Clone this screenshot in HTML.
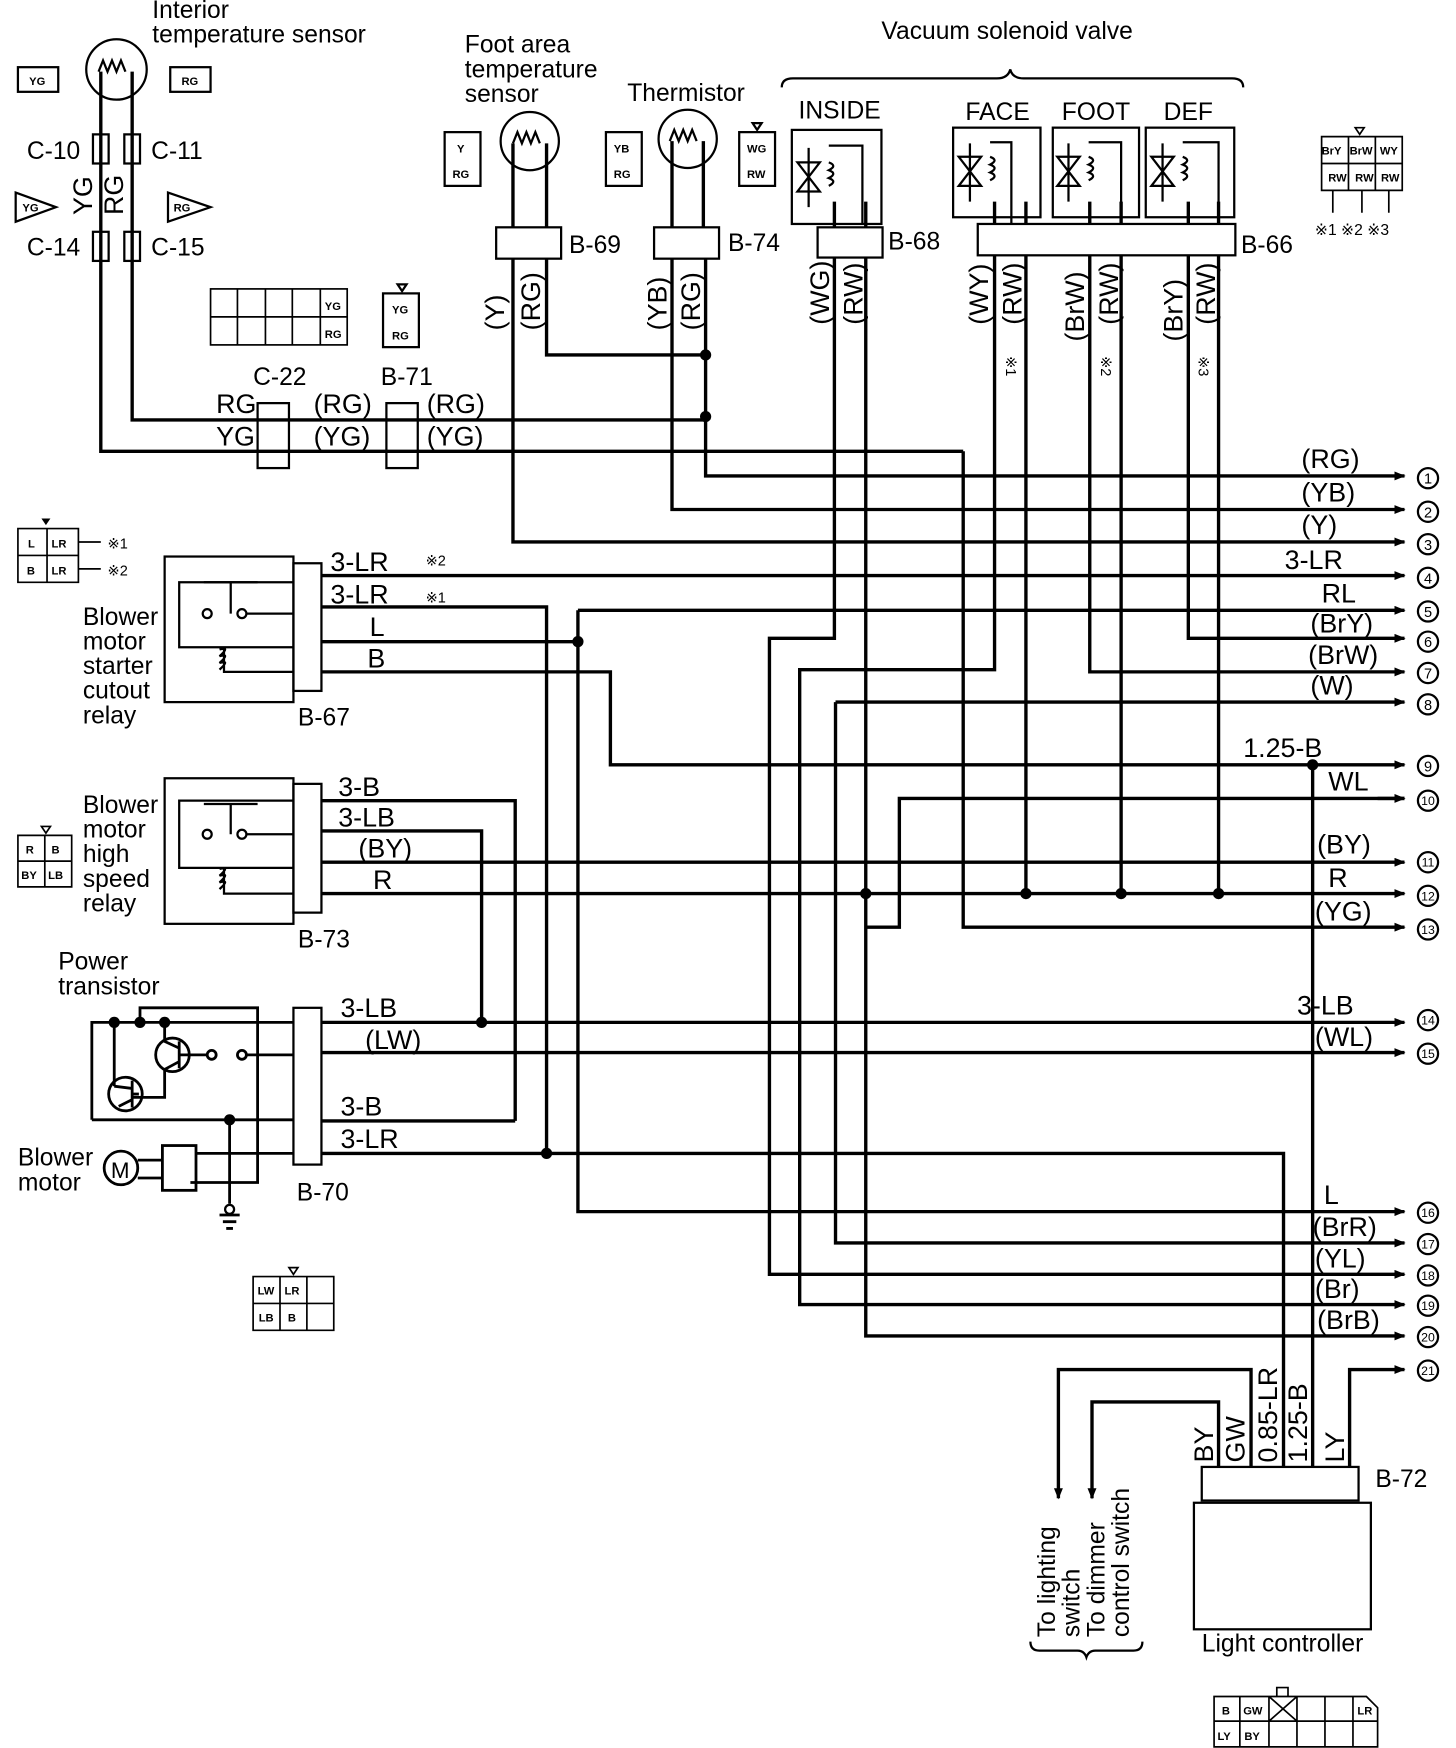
<!DOCTYPE html>
<html><head><meta charset="utf-8"><style>
html,body{margin:0;padding:0;background:#fff;}
svg{display:block;}
text{font-family:"Liberation Sans",sans-serif;fill:#000;}
.w{fill:none;stroke:#000;stroke-width:3;}
.t{fill:none;stroke:#000;stroke-width:2;}
.l{font-size:22px;}
.m{font-family:"Liberation Sans",sans-serif;font-size:24px;}
.s{font-size:10px;font-weight:bold;}
</style></head><body>
<svg width="1456" height="1748" viewBox="0 0 1300 1561" preserveAspectRatio="none" xmlns="http://www.w3.org/2000/svg">
<defs>
<marker id="ar" markerWidth="10" markerHeight="8" refX="9" refY="4" orient="auto" markerUnits="userSpaceOnUse"><path d="M0,0 L10,4 L0,8 Z" fill="#000"/></marker>
</defs>

<!-- Interior temperature sensor -->
<text x="136" y="16" class="l" font-size="19">Interior</text>
<text x="136" y="38" class="l" font-size="19">temperature sensor</text>
<circle cx="104" cy="62" r="27" class="t"/>
<path d="M88,64 l4,-10 l4,10 l4,-10 l4,10 l4,-10 l4,10" class="t"/>
<path d="M90,64 V403 H860" class="w"/>
<path d="M118,64 V375 H630" class="w"/>
<rect x="83" y="120" width="14" height="26" fill="#fff" class="t"/><rect x="111" y="120" width="14" height="26" fill="#fff" class="t"/>
<rect x="83" y="207" width="14" height="26" fill="#fff" class="t"/><rect x="111" y="207" width="14" height="26" fill="#fff" class="t"/>
<text x="24" y="142" class="l" font-size="20">C-10</text><text x="135" y="142" class="l" font-size="20">C-11</text>
<text x="24" y="228" class="l" font-size="20">C-14</text><text x="135" y="228" class="l" font-size="20">C-15</text>
<text transform="translate(82,192) rotate(-90)" class="m" font-size="22">YG</text>
<text transform="translate(110,192) rotate(-90)" class="m" font-size="22">RG</text>
<rect x="16" y="60" width="36" height="22" class="t"/><text x="26" y="76" class="s">YG</text>
<rect x="152" y="60" width="36" height="22" class="t"/><text x="162" y="76" class="s">RG</text>
<path d="M14,172 L50,185 L14,198 Z" class="t"/><text x="20" y="189" class="s">YG</text>
<path d="M150,172 L188,185 L150,198 Z" class="t"/><text x="155" y="189" class="s">RG</text>

<!-- C-22 / B-71 -->
<rect x="230" y="360" width="28" height="58" fill="#fff" class="t"/>
<rect x="345" y="360" width="28" height="58" fill="#fff" class="t"/>
<text x="226" y="344" class="l" font-size="19">C-22</text><text x="340" y="344" class="l" font-size="19">B-71</text>
<text x="193" y="369" class="m">RG</text><text x="193" y="398" class="m">YG</text>
<text x="280" y="369" class="m">(RG)</text><text x="280" y="398" class="m">(YG)</text>
<text x="381" y="369" class="m">(RG)</text><text x="381" y="398" class="m">(YG)</text>
<path d="M860,403 V828 H1254" class="w" marker-end="url(#ar)"/>
<g fill="none" stroke="#000" stroke-width="1.5">
<rect x="188" y="258" width="122" height="50"/>
<path d="M188,283 H310 M212,258 V308 M237,258 V308 M261,258 V308 M286,258 V308"/>
</g>
<text x="290" y="277" class="s">YG</text><text x="290" y="302" class="s">RG</text>
<rect x="342" y="262" width="32" height="48" class="t"/><path d="M355,254 h8 l-4,6z" class="t"/>
<text x="350" y="280" class="s">YG</text><text x="350" y="303" class="s">RG</text>

<!-- Foot area sensor B-69 -->
<text x="415" y="47" class="l" font-size="19">Foot area</text>
<text x="415" y="69" class="l" font-size="19">temperature</text>
<text x="415" y="91" class="l" font-size="19">sensor</text>
<circle cx="473" cy="126" r="26" class="t"/>
<path d="M458,128 l4,-10 l4,10 l4,-10 l4,10 l4,-10 l4,10" class="t"/>
<rect x="443" y="203" width="58" height="28" fill="#fff" class="t"/>
<text x="508" y="226" class="l" font-size="20">B-69</text>
<path d="M458,128 V203 M488,128 V203" class="w"/>
<path d="M458,231 V484 H1254" class="w" marker-end="url(#ar)"/>
<path d="M488,231 V317 H630" class="w"/>
<rect x="397" y="118" width="32" height="48" class="t"/><text x="408" y="136" class="s">Y</text><text x="404" y="159" class="s">RG</text>
<text transform="translate(450,295) rotate(-90)" class="m">(Y)</text>
<text transform="translate(482,295) rotate(-90)" class="m">(RG)</text>

<!-- Thermistor B-74 -->
<text x="560" y="90" class="l" font-size="19">Thermistor</text>
<circle cx="614" cy="124" r="26" class="t"/>
<path d="M598,126 l4,-10 l4,10 l4,-10 l4,10 l4,-10 l4,10" class="t"/>
<rect x="584" y="203" width="58" height="28" fill="#fff" class="t"/>
<text x="650" y="224" class="l" font-size="20">B-74</text>
<path d="M600,126 V203 M628,126 V203" class="w"/>
<path d="M600,231 V455 H1254" class="w" marker-end="url(#ar)"/>
<path d="M630,231 V425 H1254" class="w" marker-end="url(#ar)"/>
<rect x="541" y="118" width="32" height="48" class="t"/><text x="548" y="136" class="s">YB</text><text x="548" y="159" class="s">RG</text>
<rect x="660" y="118" width="32" height="48" class="t"/><text x="667" y="136" class="s">WG</text><text x="667" y="159" class="s">RW</text>
<path d="M672,110 h8 l-4,6z" class="t"/>
<text transform="translate(595,295) rotate(-90)" class="m">(YB)</text>
<text transform="translate(625,295) rotate(-90)" class="m">(RG)</text>

<!-- Vacuum solenoid valve -->
<text x="787" y="35" class="l" font-size="19">Vacuum solenoid valve</text>
<path d="M698,78 q0,-8 10,-8 H890 q10,0 12,-8 q2,8 12,8 H1100 q10,0 10,8" class="t" stroke-width="1.5"/>
<text x="713" y="106" class="l" font-size="20">INSIDE</text>
<text x="862" y="107" class="l" font-size="20">FACE</text>
<text x="948" y="107" class="l" font-size="20">FOOT</text>
<text x="1039" y="107" class="l" font-size="20">DEF</text>
<g class="t">
<rect x="707" y="116" width="80" height="84"/>
<rect x="851" y="114" width="78" height="80"/>
<rect x="940" y="114" width="77" height="80"/>
<rect x="1023" y="114" width="79" height="80"/>
</g>
<g fill="none" stroke="#000" stroke-width="2">
<path d="M712,145 h20 l-20,26 h20 z M722,132 V185"/><path d="M740,145 q8,3 0,7 q8,3 0,7 q8,3 0,7 M740,130 H770 V200"/>
<path d="M856,140 h20 l-20,26 h20 z M866,128 V180"/><path d="M884,140 q8,3 0,7 q8,3 0,7 q8,3 0,7 M884,127 H903 V200"/>
<path d="M944,140 h20 l-20,26 h20 z M954,128 V180"/><path d="M972,140 q8,3 0,7 q8,3 0,7 q8,3 0,7 M972,127 H1001 V200"/>
<path d="M1028,140 h20 l-20,26 h20 z M1038,128 V180"/><path d="M1056,140 q8,3 0,7 q8,3 0,7 q8,3 0,7 M1056,127 H1088 V200"/>
</g>
<rect x="730" y="203" width="58" height="27" fill="#fff" class="t"/>
<text x="793" y="223" class="l" font-size="20">B-68</text>
<rect x="873" y="200" width="230" height="28" fill="#fff" class="t"/>
<text x="1108" y="226" class="l" font-size="20">B-66</text>
<path d="M745,180 V203 M773,180 V203" class="w"/>
<path d="M745,230 V570 H687 V1138 H1254" class="w" marker-end="url(#ar)"/>
<path d="M773,230 V1193 H1254" class="w" marker-end="url(#ar)"/>
<path d="M888,180 V200 M916,180 V200 M973,180 V200 M1001,180 V200 M1061,180 V200 M1088,180 V200" class="w"/>
<path d="M888,228 V598 H714 V1165 H1254" class="w" marker-end="url(#ar)"/>
<path d="M916,228 V798" class="w"/>
<path d="M973,228 V600 H1254" class="w" marker-end="url(#ar)"/>
<path d="M1001,228 V798" class="w"/>
<path d="M1061,228 V570 H1254" class="w" marker-end="url(#ar)"/>
<path d="M1088,228 V798" class="w"/>
<path d="M746,627 H1254" class="w" marker-end="url(#ar)"/>
<path d="M746,627 V1110 H1254" class="w" marker-end="url(#ar)"/>
<path d="M1254,713 H803 V828 H773" class="w"/>
<path d="M1230,713 H1254" class="w" marker-end="url(#ar)"/>
<text transform="translate(740,290) rotate(-90)" class="m">(WG)</text>
<text transform="translate(770,290) rotate(-90)" class="m">(RW)</text>
<text transform="translate(882,290) rotate(-90)" class="m">(WY)</text>
<text transform="translate(912,290) rotate(-90)" class="m">(RW)</text>
<text transform="translate(968,305) rotate(-90)" class="m">(BrW)</text>
<text transform="translate(998,290) rotate(-90)" class="m">(RW)</text>
<text transform="translate(1056,305) rotate(-90)" class="m">(BrY)</text>
<text transform="translate(1085,290) rotate(-90)" class="m">(RW)</text>
<text transform="translate(898,318) rotate(90)" font-size="13">※1</text>
<text transform="translate(983,318) rotate(90)" font-size="13">※2</text>
<text transform="translate(1070,318) rotate(90)" font-size="13">※3</text>
<!-- connector top right -->
<g fill="none" stroke="#000" stroke-width="1.5">
<path d="M1180,122 h72 v48 h-72 z M1180,146 h72 M1204,122 v48 M1228,122 v48"/><path d="M1210,114 h8 l-4,6z"/>
<path d="M1190,170 v20 M1216,170 v20 M1240,170 v20"/>
</g>
<text x="1180" y="138" font-size="10" font-weight="bold">BrY</text><text x="1205" y="138" font-size="10" font-weight="bold">BrW</text><text x="1232" y="138" class="s">WY</text>
<text x="1186" y="162" class="s">RW</text><text x="1210" y="162" class="s">RW</text><text x="1233" y="162" class="s">RW</text>
<text x="1174" y="210" font-size="14">※1 ※2 ※3</text>

<!-- Relay B-67 -->
<g fill="#000"><path d="M37,463 h8 l-4,6z"/></g>
<g fill="none" stroke="#000" stroke-width="1.5"><path d="M16,472 h54 v48 h-54 z M16,496 h54 M42,472 v48 M70,484 h20 M70,508 h20"/></g>
<text x="25" y="489" class="s">L</text><text x="46" y="489" class="s">LR</text><text x="24" y="513" class="s">B</text><text x="46" y="513" class="s">LR</text>
<text x="96" y="490" font-size="13">※1</text><text x="96" y="514" font-size="13">※2</text>
<rect x="147" y="497" width="115" height="130" class="t"/>
<rect x="262" y="503" width="25" height="114" fill="#fff" class="t"/>
<text x="266" y="648" class="l" font-size="19">B-67</text>
<text x="74" y="558" class="l" font-size="19">Blower</text><text x="74" y="580" class="l" font-size="19">motor</text>
<text x="74" y="602" class="l" font-size="19">starter</text><text x="74" y="624" class="l" font-size="19">cutout</text><text x="74" y="646" class="l" font-size="19">relay</text>
<g fill="none" stroke="#000" stroke-width="2">
<path d="M262,520 H160 V578 H262"/><path d="M182,520 H230 M206,520 V548"/>
<circle cx="185" cy="548" r="4"/><circle cx="216" cy="548" r="4"/><path d="M220,548 H262"/>
<path d="M196,580 q10,-3 0,6 q10,-3 0,6 q10,-3 0,6 M200,578 V600 H262"/>
</g>
<path d="M287,514 H1254" class="w" marker-end="url(#ar)"/>
<path d="M287,542 H488 V1030" class="w"/>
<path d="M287,573 H516" class="w"/>
<path d="M516,545 H1254" class="w" marker-end="url(#ar)"/>
<path d="M516,545 V1082 H1254" class="w" marker-end="url(#ar)"/>
<path d="M287,600 H545 V683 H1254" class="w" marker-end="url(#ar)"/>
<text x="295" y="510" class="m">3-LR</text><text x="380" y="505" font-size="13">※2</text>
<text x="295" y="539" class="m">3-LR</text><text x="380" y="538" font-size="13">※1</text>
<text x="330" y="568" class="m">L</text><text x="328" y="596" class="m">B</text>

<!-- Relay B-73 -->
<g fill="none" stroke="#000" stroke-width="1.5"><path d="M37,738 h8 l-4,6z"/><path d="M16,746 h48 v46 h-48 z M16,769 h48 M40,746 v46"/></g>
<text x="23" y="762" class="s">R</text><text x="46" y="762" class="s">B</text><text x="19" y="785" class="s">BY</text><text x="43" y="785" class="s">LB</text>
<rect x="147" y="695" width="115" height="130" class="t"/>
<rect x="262" y="700" width="25" height="115" fill="#fff" class="t"/>
<text x="266" y="846" class="l" font-size="19">B-73</text>
<text x="74" y="726" class="l" font-size="19">Blower</text><text x="74" y="748" class="l" font-size="19">motor</text>
<text x="74" y="770" class="l" font-size="19">high</text><text x="74" y="792" class="l" font-size="19">speed</text><text x="74" y="814" class="l" font-size="19">relay</text>
<g fill="none" stroke="#000" stroke-width="2">
<path d="M262,715 H160 V775 H262"/><path d="M182,718 H230 M206,718 V745"/>
<circle cx="185" cy="745" r="4"/><circle cx="216" cy="745" r="4"/><path d="M220,745 H262"/>
<path d="M196,776 q10,-3 0,6 q10,-3 0,6 q10,-3 0,6 M200,775 V798 H262"/>
</g>
<path d="M287,715 H460 V1001" class="w"/>
<path d="M287,742 H430 V913" class="w"/>
<path d="M287,770 H1254" class="w" marker-end="url(#ar)"/>
<path d="M287,798 H1254" class="w" marker-end="url(#ar)"/>
<text x="302" y="711" class="m">3-B</text><text x="302" y="738" class="m">3-LB</text>
<text x="320" y="766" class="m">(BY)</text><text x="333" y="794" class="m">R</text>

<!-- Power transistor / B-70 -->
<text x="52" y="866" class="l" font-size="19">Power</text><text x="52" y="888" class="l" font-size="19">transistor</text>
<rect x="262" y="900" width="25" height="140" fill="#fff" class="t"/>
<text x="265" y="1072" class="l" font-size="19">B-70</text>
<g fill="none" stroke="#000" stroke-width="2.5">
<path d="M82,1000 V913 H262"/><path d="M125,913 V900 H230 V1056 H170"/>
<path d="M82,1000 H262"/><path d="M102,913 V970"/>
<circle cx="154" cy="942" r="15"/><circle cx="112" cy="977" r="15"/>
<path d="M160,930 V954 M160,942 H185 M147,913 V930 L160,936 M160,948 L147,955 V980 H118 M118,965 V989 M118,977 H124 M102,970 L118,972 M118,982 L106,988"/>
<circle cx="189" cy="942" r="4"/><circle cx="216" cy="942" r="4"/><path d="M220,942 H262"/>
<path d="M205,1000 V1075"/>
<circle cx="108" cy="1043" r="15"/><rect x="145" y="1023" width="30" height="40"/>
<path d="M123,1036 H145 M123,1052 H145 M175,1030 H262"/>
<path d="M196,1085 H214 M199,1091 H211 M202,1097 H208"/>
</g>
<circle cx="205" cy="1080" r="4" fill="none" stroke="#000" stroke-width="2"/>
<text x="99" y="1052" font-size="20" font-family="Liberation Sans">M</text>
<g fill="#000"><circle cx="102" cy="913" r="5"/><circle cx="125" cy="913" r="5"/><circle cx="147" cy="913" r="5"/><circle cx="205" cy="1000" r="5"/></g>
<text x="16" y="1041" class="l" font-size="19">Blower</text><text x="16" y="1063" class="l" font-size="19">motor</text>
<path d="M287,913 H1254" class="w" marker-end="url(#ar)"/>
<path d="M287,940 H1254" class="w" marker-end="url(#ar)"/>
<path d="M287,1001 H460" class="w"/>
<path d="M287,1030 H1146 V1310" class="w"/>
<text x="304" y="908" class="m">3-LB</text><text x="326" y="937" class="m">(LW)</text>
<text x="304" y="996" class="m">3-B</text><text x="304" y="1025" class="m">3-LR</text>
<g fill="none" stroke="#000" stroke-width="1.5"><path d="M258,1132 h8 l-4,6z"/><path d="M226,1140 h72 v48 h-72 z M226,1164 h72 M250,1140 v48 M274,1140 v48"/></g>
<text x="230" y="1156" class="s">LW</text><text x="254" y="1156" class="s">LR</text><text x="231" y="1180" class="s">LB</text><text x="257" y="1180" class="s">B</text>

<!-- Junction dots -->
<g fill="#000">
<circle cx="630" cy="317" r="5"/><circle cx="630" cy="372" r="5"/>
<circle cx="516" cy="573" r="5"/><circle cx="430" cy="913" r="5"/><circle cx="488" cy="1030" r="5"/>
<circle cx="773" cy="798" r="5"/><circle cx="916" cy="798" r="5"/><circle cx="1001" cy="798" r="5"/><circle cx="1088" cy="798" r="5"/>
<circle cx="1172" cy="683" r="5"/>
</g>
<path d="M1172,683 V1310" class="w"/>

<!-- Right labels -->
<g class="m">
<text x="1162" y="418">(RG)</text><text x="1162" y="448">(YB)</text><text x="1162" y="477">(Y)</text>
<text x="1147" y="508">3-LR</text><text x="1180" y="538">RL</text><text x="1170" y="565">(BrY)</text>
<text x="1168" y="593">(BrW)</text><text x="1170" y="620">(W)</text>
<text x="1110" y="676">1.25-B</text><text x="1186" y="706">WL</text>
<text x="1176" y="762">(BY)</text><text x="1186" y="792">R</text><text x="1174" y="822">(YG)</text>
<text x="1158" y="906">3-LB</text><text x="1174" y="934">(WL)</text>
<text x="1182" y="1075">L</text><text x="1172" y="1104">(BrR)</text><text x="1174" y="1132">(YL)</text>
<text x="1174" y="1159">(Br)</text><text x="1176" y="1187">(BrB)</text>
</g>
<g font-size="13" text-anchor="middle">
<circle cx="1275" cy="427" r="9" class="t" stroke-width="1.3"/><text x="1275" y="432">1</text>
<circle cx="1275" cy="457" r="9" class="t" stroke-width="1.3"/><text x="1275" y="462">2</text>
<circle cx="1275" cy="486" r="9" class="t" stroke-width="1.3"/><text x="1275" y="491">3</text>
<circle cx="1275" cy="516" r="9" class="t" stroke-width="1.3"/><text x="1275" y="521">4</text>
<circle cx="1275" cy="546" r="9" class="t" stroke-width="1.3"/><text x="1275" y="551">5</text>
<circle cx="1275" cy="573" r="9" class="t" stroke-width="1.3"/><text x="1275" y="578">6</text>
<circle cx="1275" cy="601" r="9" class="t" stroke-width="1.3"/><text x="1275" y="606">7</text>
<circle cx="1275" cy="629" r="9" class="t" stroke-width="1.3"/><text x="1275" y="634">8</text>
<circle cx="1275" cy="684" r="9" class="t" stroke-width="1.3"/><text x="1275" y="689">9</text>
<circle cx="1275" cy="715" r="9" class="t" stroke-width="1.3"/><text x="1275" y="719" font-size="11">10</text>
<circle cx="1275" cy="770" r="9" class="t" stroke-width="1.3"/><text x="1275" y="774" font-size="11">11</text>
<circle cx="1275" cy="800" r="9" class="t" stroke-width="1.3"/><text x="1275" y="804" font-size="11">12</text>
<circle cx="1275" cy="830" r="9" class="t" stroke-width="1.3"/><text x="1275" y="834" font-size="11">13</text>
<circle cx="1275" cy="911" r="9" class="t" stroke-width="1.3"/><text x="1275" y="915" font-size="11">14</text>
<circle cx="1275" cy="941" r="9" class="t" stroke-width="1.3"/><text x="1275" y="945" font-size="11">15</text>
<circle cx="1275" cy="1083" r="9" class="t" stroke-width="1.3"/><text x="1275" y="1087" font-size="11">16</text>
<circle cx="1275" cy="1111" r="9" class="t" stroke-width="1.3"/><text x="1275" y="1115" font-size="11">17</text>
<circle cx="1275" cy="1139" r="9" class="t" stroke-width="1.3"/><text x="1275" y="1143" font-size="11">18</text>
<circle cx="1275" cy="1166" r="9" class="t" stroke-width="1.3"/><text x="1275" y="1170" font-size="11">19</text>
<circle cx="1275" cy="1194" r="9" class="t" stroke-width="1.3"/><text x="1275" y="1198" font-size="11">20</text>
<circle cx="1275" cy="1224" r="9" class="t" stroke-width="1.3"/><text x="1275" y="1228" font-size="11">21</text>
</g>

<!-- Light controller B-72 -->
<path d="M1205,1310 V1223 H1254" class="w" marker-end="url(#ar)"/>
<path d="M1117,1310 V1223 H945 V1338" class="w" marker-end="url(#ar)"/>
<path d="M1088,1310 V1252 H975 V1338" class="w" marker-end="url(#ar)"/>
<rect x="1073" y="1310" width="140" height="30" fill="#fff" class="t"/>
<rect x="1066" y="1342" width="158" height="113" fill="#fff" class="t"/>
<text x="1228" y="1328" class="l" font-size="19">B-72</text>
<text x="1073" y="1475" class="l" font-size="19">Light controller</text>
<text transform="translate(1083,1306) rotate(-90)" class="m">BY</text>
<text transform="translate(1111,1306) rotate(-90)" class="m">GW</text>
<text transform="translate(1140,1306) rotate(-90)" class="m">0.85-LR</text>
<text transform="translate(1167,1306) rotate(-90)" class="m">1.25-B</text>
<text transform="translate(1200,1306) rotate(-90)" class="m">LY</text>
<text transform="translate(942,1462) rotate(-90)" class="l" font-size="19">To lighting</text>
<text transform="translate(964,1462) rotate(-90)" class="l" font-size="19">switch</text>
<text transform="translate(986,1462) rotate(-90)" class="l" font-size="19">To dimmer</text>
<text transform="translate(1008,1462) rotate(-90)" class="l" font-size="19">control switch</text>
<path d="M920,1466 q0,8 8,8 H962 q6,0 8,6 q2,-6 8,-6 H1012 q8,0 8,-8" class="t" stroke-width="1.5"/>
<g fill="none" stroke="#000" stroke-width="1.5">
<path d="M1084,1515 H1220 l10,10 V1560 H1084 Z M1084,1537 H1230 M1107,1515 V1560 M1133,1515 V1560 M1158,1515 V1560 M1183,1515 V1560 M1208,1515 V1560 M1133,1515 L1158,1537 M1158,1515 L1133,1537 M1140,1507 h10 v8 h-10z"/>
</g>
<text x="1091" y="1531" class="s">B</text><text x="1110" y="1531" class="s">GW</text><text x="1212" y="1531" class="s">LR</text>
<text x="1087" y="1554" class="s">LY</text><text x="1111" y="1554" class="s">BY</text>
</svg>
</body></html>
